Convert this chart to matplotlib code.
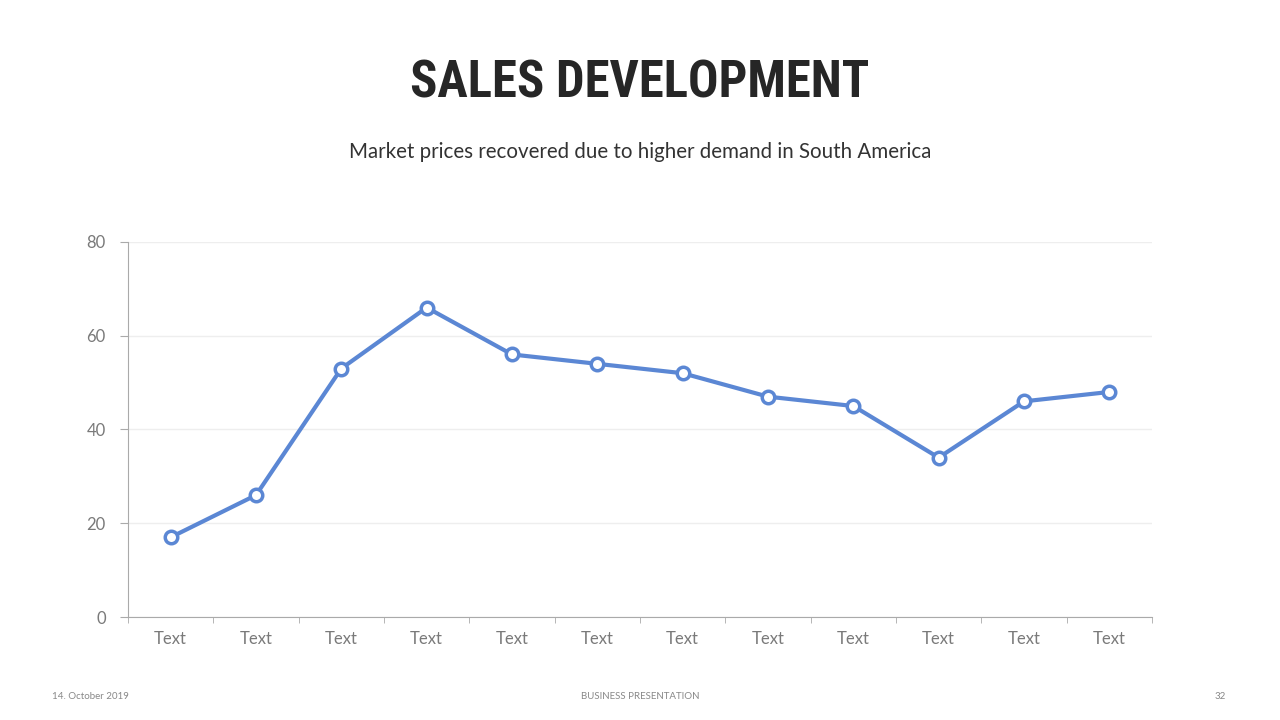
import numpy as np
import matplotlib.pyplot as plt

categories = ["Text"] * 12
values = [17, 26, 53, 66, 56, 54, 52, 47, 45, 34, 46, 48]
yticks = [0, 20, 40, 60, 80]

title = "SALES DEVELOPMENT"
subtitle = "Market prices recovered due to higher demand in South America"
footer_left = "14. October 2019"
footer_mid = "BUSINESS PRESENTATION"
footer_right = "32"

fig = plt.figure(figsize=(12.8, 7.2), dpi=100)
ax = fig.add_axes([0.1, 0.143, 0.8, 0.521])

x = np.arange(len(values))
ax.plot(x, values, color='#5b87d4', linewidth=3, marker='o', markersize=9,
        markerfacecolor='white', markeredgecolor='#5b87d4', markeredgewidth=2.5, zorder=3)

ax.set_xlim(-0.5, len(values) - 0.5)
ax.set_ylim(0, 80)
ax.set_yticks(yticks)
ax.set_xticks(x)
ax.set_xticklabels(categories)
ax.set_xticks(np.arange(-0.5, len(values)), minor=True)
ax.tick_params(axis='x', which='major', length=0, pad=10, labelsize=12, labelcolor='#7a7a7a')
ax.tick_params(axis='x', which='minor', length=4, color='#aaaaaa')
ax.tick_params(axis='y', length=6, color='#aaaaaa', pad=10, labelsize=12, labelcolor='#7a7a7a')
for lab in ax.get_xticklabels() + ax.get_yticklabels():
    lab.set_fontfamily('Lato')

ax.grid(axis='y', color='#eeeeee', linewidth=1)
ax.set_axisbelow(True)
for s in ['top', 'right']:
    ax.spines[s].set_visible(False)
for s in ['left', 'bottom']:
    ax.spines[s].set_color('#aaaaaa')

fig.text(0.5, 0.884, title, ha='center', va='center', fontsize=36.5, fontweight='heavy',
         family=['Roboto Condensed', 'Roboto', 'DejaVu Sans'], color='#262626')
fig.text(0.5, 0.789, subtitle, ha='center', va='center', fontsize=14.8,
         family='Lato', color='#333333')
fig.text(0.041, 0.033, footer_left, ha='left', va='center', fontsize=7, family='Lato', color='#888888')
fig.text(0.5, 0.033, footer_mid, ha='center', va='center', fontsize=7, family='Lato', color='#888888')
fig.text(0.958, 0.033, footer_right, ha='right', va='center', fontsize=7, family='Lato', color='#888888')

fig.savefig('out.png', dpi=100, facecolor='white')
